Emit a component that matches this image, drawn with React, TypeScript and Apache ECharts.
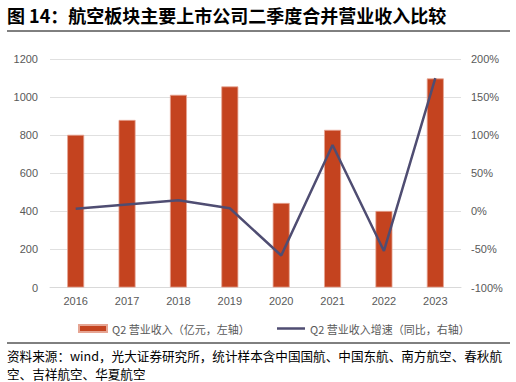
import React, { useEffect, useRef } from "react";
import * as echarts from "echarts";

const categories = ["2016", "2017", "2018", "2019", "2020", "2021", "2022", "2023"];
const revenue = [802, 880, 1012, 1056, 444, 828, 402, 1098];
const growth = [3.5, 9, 14.5, 4, -58, 87, -52, 175];
const barName = "Q2 营业收入（亿元，左轴）";
const lineName = "Q2 营业收入增速（同比，右轴）";
const titleText = "图 14：航空板块主要上市公司二季度合并营业收入比较";
const sourceLine1 = "资料来源：wind，光大证券研究所，统计样本含中国国航、中国东航、南方航空、春秋航";
const sourceLine2 = "空、吉祥航空、华夏航空";

const CJK = "'Noto Sans CJK SC', 'Liberation Sans', sans-serif";
const NUM = "'Liberation Sans', 'Noto Sans CJK SC', sans-serif";

export default function App() {
  const ref = useRef<HTMLDivElement>(null);
  useEffect(() => {
    document.body.style.margin = "0";
    const chart = echarts.init(ref.current!, null, { renderer: "svg" });
    chart.setOption({
      animation: false,
      backgroundColor: "#ffffff",
      grid: { left: 50, right: 55, top: 59, bottom: 94.5 },
      legend: {
        top: 318,
        left: 73,
        itemWidth: 28,
        itemHeight: 7,
        itemGap: 26,
        textStyle: { fontSize: 11, color: "#595959", fontFamily: CJK },
        data: [
          { name: barName, icon: "rect" },
          { name: lineName, itemStyle: { opacity: 0 }, lineStyle: { width: 2.5, color: "#4F4D72" } },
        ],
      },
      xAxis: {
        type: "category",
        data: categories,
        axisLine: { show: true, lineStyle: { color: "#D9D9D9" } },
        axisTick: { show: false },
        axisLabel: { color: "#595959", fontSize: 11, fontFamily: NUM, margin: 8 },
      },
      yAxis: [
        {
          type: "value",
          min: 0,
          max: 1200,
          interval: 200,
          axisLine: { show: false },
          axisTick: { show: false },
          splitLine: { lineStyle: { color: "#E0E0E0" } },
          axisLabel: {
            color: "#595959",
            fontSize: 11,
            fontFamily: NUM,
            margin: 12,
            formatter: (v: number) => String(v),
          },
        },
        {
          type: "value",
          min: -100,
          max: 200,
          interval: 50,
          axisLine: { show: false },
          axisTick: { show: false },
          splitLine: { show: false },
          axisLabel: { color: "#595959", fontSize: 11, fontFamily: NUM, margin: 10, formatter: "{value}%" },
        },
      ],
      series: [
        {
          name: barName,
          type: "bar",
          data: revenue,
          barWidth: 17,
          itemStyle: { color: "#C4431F", borderColor: "#E6A593", borderWidth: 0.8 },
        },
        {
          name: lineName,
          type: "line",
          yAxisIndex: 1,
          data: growth,
          symbol: "none",
          lineStyle: { color: "#4F4D72", width: 2.5 },
          itemStyle: { color: "#4F4D72" },
        },
      ],
      graphic: [
        {
          type: "text",
          left: 7,
          top: 6,
          style: { text: titleText, fontSize: 18, fontWeight: "bold", fill: "#000", fontFamily: CJK },
        },
        {
          type: "line",
          shape: { x1: 7, y1: 31, x2: 510, y2: 31 },
          style: { stroke: "#000", lineWidth: 1 },
        },
        {
          type: "line",
          shape: { x1: 7, y1: 343, x2: 510, y2: 343 },
          style: { stroke: "#000", lineWidth: 1 },
        },
        {
          type: "text",
          left: 7,
          top: 349,
          style: { text: sourceLine1, fontSize: 12.6, fill: "#000", fontFamily: CJK },
        },
        {
          type: "text",
          left: 7,
          top: 367,
          style: { text: sourceLine2, fontSize: 12.6, fill: "#000", fontFamily: CJK },
        },
      ],
    });
    return () => chart.dispose();
  }, []);
  return <div ref={ref} style={{ width: 516, height: 382 }} />;
}
